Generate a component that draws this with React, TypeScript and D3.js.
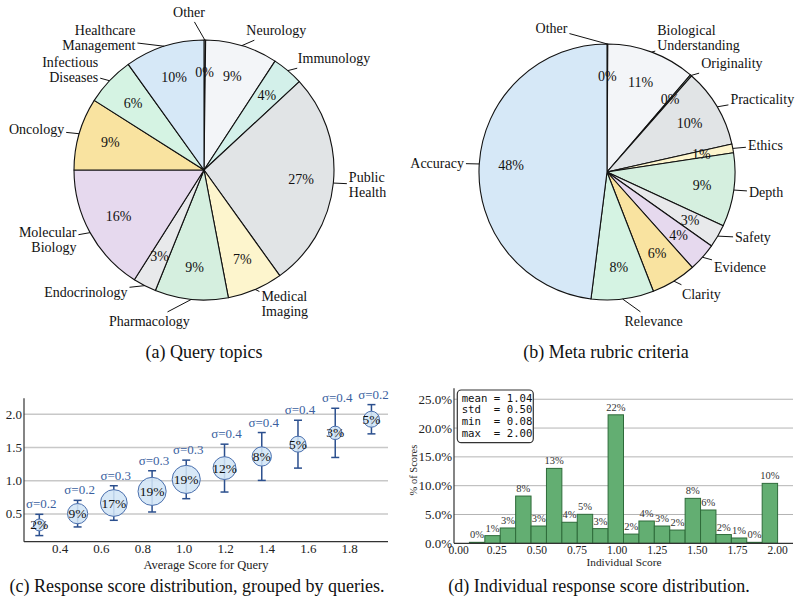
import React from "react";
import * as d3 from "d3";

const SERIF = "'Liberation Serif', 'Times New Roman', serif";
const MONO = "'DejaVu Sans Mono', monospace";

// wedge colours, taken in order after the "Other" wedge
const OTHER_COLOR = "#eeeeee";
const PIE_COLORS = [
  "#f3f5f8", "#d3f0ea", "#e1e4e6", "#fdf5cd", "#d5efdf",
  "#e8e9eb", "#e6d9ee", "#f9e3a0", "#d5f3e3", "#d6e8f7",
];

// (a) query topics, clockwise from 12 o'clock
const topicLabels = [
  "Other", "Neurology", "Immunology", "Public\nHealth", "Medical\nImaging",
  "Pharmacology", "Endocrinology", "Molecular\nBiology", "Oncology",
  "Infectious\nDiseases", "Healthcare\nManagement",
];
const topicShares = [0.2, 9.0, 3.9, 27.0, 6.9, 9.1, 2.9, 16.0, 9.0, 6.1, 9.9];

// (b) meta rubric criteria
const rubricLabels = [
  "Other", "Biological\nUnderstanding", "Originality", "Practicality", "Ethics",
  "Depth", "Safety", "Evidence", "Clarity", "Relevance", "Accuracy",
];
const rubricShares = [0.1, 11.2, 0.2, 10.0, 1.1, 9.3, 2.9, 3.6, 5.7, 7.9, 48.0];

// (c) per-query score groups
const groupAvgScore = [0.30, 0.485, 0.66, 0.845, 1.01, 1.195, 1.375, 1.55, 1.73, 1.905];
const groupMeanScore = [0.335, 0.505, 0.665, 0.84, 1.02, 1.19, 1.365, 1.55, 1.72, 1.925];
const groupStd = [0.16, 0.2, 0.26, 0.31, 0.29, 0.36, 0.36, 0.36, 0.37, 0.22];
const groupShare = [2, 9, 17, 19, 19, 12, 8, 5, 3, 5];
const groupXTicks = [0.4, 0.6, 0.8, 1.0, 1.2, 1.4, 1.6, 1.8];
const groupYTicks = [0.5, 1.0, 1.5, 2.0];

// (d) histogram of individual scores
const histEdges = [
  0.08, 0.176, 0.272, 0.368, 0.464, 0.56, 0.656, 0.752, 0.848, 0.944, 1.04,
  1.136, 1.232, 1.328, 1.424, 1.52, 1.616, 1.712, 1.808, 1.904, 2.0,
];
const histShares = [
  0.17, 1.33, 2.66, 8.2, 3.0, 13.0, 3.65, 5.03, 2.55, 22.3,
  1.6, 3.87, 3.0, 2.3, 7.8, 5.78, 1.52, 0.92, 0.17, 10.4,
];
const histXTicks = [0, 0.25, 0.5, 0.75, 1.0, 1.25, 1.5, 1.75, 2.0];
const histYTicks = [0, 5, 10, 15, 20, 25];
const histStats = ["mean = 1.04", "std  = 0.50", "min  = 0.08", "max  = 2.00"];

let measureCtx: CanvasRenderingContext2D | null = null;
function textWidth(s: string, size: number) {
  if (!measureCtx) measureCtx = document.createElement("canvas").getContext("2d");
  if (!measureCtx) return s.length * size * 0.5;
  measureCtx.font = `${size}px "Liberation Serif"`;
  return measureCtx.measureText(s).width;
}

type Nudge = { [k: string]: [number, number] };

function PieChart({ labels, values, cx, cy, r, nudges }: {
  labels: string[]; values: number[]; cx: number; cy: number; r: number; nudges: Nudge;
}) {
  const total = d3.sum(values);
  const arcs = d3.pie<number>().sort(null).value((d) => d)(values);
  const arc = d3.arc<d3.PieArcDatum<number>>().innerRadius(0).outerRadius(r);
  const fs = 14;
  const lh = 15;

  return (
    <g transform={`translate(${cx},${cy})`}>
      {arcs.map((a, i) => (
        <path key={i} d={arc(a) || ""} fill={i === 0 ? OTHER_COLOR : PIE_COLORS[(i - 1) % PIE_COLORS.length]}
          stroke="#111" strokeWidth={1.1} strokeLinejoin="round" />
      ))}
      {arcs.map((a, i) => {
        const mid = (a.startAngle + a.endAngle) / 2;
        const rr = r * 0.75;
        return (
          <text key={i} x={rr * Math.sin(mid)} y={-rr * Math.cos(mid)} textAnchor="middle"
            dominantBaseline="central" fontFamily={SERIF} fontSize={fs} fill="#111">
            {`${Math.round((values[i] / total) * 100)}%`}
          </text>
        );
      })}
      {arcs.map((a, i) => {
        const mid = (a.startAngle + a.endAngle) / 2;
        const s = Math.sin(mid), c = Math.cos(mid);
        const [nx, ny] = nudges[labels[i]] || [0, 0];
        const px = 1.12 * r * s + nx;
        const py = -1.12 * r * c + ny;
        // labels right of the vertical axis hang to the right, the rest to the left
        const anchorStart = s > 0.02;
        const lines = labels[i].split("\n");
        const w = Math.max(...lines.map((l) => textWidth(l, fs)));
        const left = anchorStart ? px : px - w;
        const bx = left + w / 2;
        const ex = r * s, ey = -r * c;
        const dx = ex - bx, dy = ey - py;
        const halfW = w / 2 + 2;
        const halfH = (lines.length * lh) / 2 + 2;
        const t = Math.min(Math.abs(dx) > 0 ? halfW / Math.abs(dx) : 1e9, Math.abs(dy) > 0 ? halfH / Math.abs(dy) : 1e9);
        return (
          <g key={i}>
            {t < 1 && (
              <line x1={ex} y1={ey} x2={bx + t * dx} y2={py + t * dy} stroke="#111" strokeWidth={1} />
            )}
            <text fontFamily={SERIF} fontSize={fs} fill="#111" textAnchor={anchorStart ? "start" : "end"}>
              {lines.map((l, j) => (
                <tspan key={j} x={px} y={py + (j - (lines.length - 1) / 2) * lh} dominantBaseline="central">{l}</tspan>
              ))}
            </text>
          </g>
        );
      })}
    </g>
  );
}

function GroupScatter() {
  const x = d3.scaleLinear().domain([0.226, 1.985]).range([24, 388]);
  const y = d3.scaleLinear().domain([0.083, 2.24]).range([541.7, 398.3]);
  const area = d3.scaleLinear().domain([0, 19]).range([16, 198]);
  return (
    <g>
      {groupYTicks.map((t) => (
        <g key={t}>
          <line x1={24} x2={388} y1={y(t)} y2={y(t)} stroke="#c8c8c8" strokeWidth={1.5} />
          <text x={22} y={y(t)} textAnchor="end" dominantBaseline="central" fontFamily={SERIF} fontSize={13} fill="#222">
            {t.toFixed(1)}
          </text>
        </g>
      ))}
      {groupXTicks.map((t) => (
        <text key={t} x={x(t)} y={553} textAnchor="middle" fontFamily={SERIF} fontSize={13} fill="#222">
          {t.toFixed(1)}
        </text>
      ))}
      {groupAvgScore.map((gx, i) => {
        const top = y(groupMeanScore[i] + groupStd[i]);
        const bot = y(groupMeanScore[i] - groupStd[i]);
        const cxp = x(gx);
        return (
          <g key={i}>
            <line x1={cxp} x2={cxp} y1={top} y2={bot} stroke="#2b4f8e" strokeWidth={1.5} />
            <line x1={cxp - 4} x2={cxp + 4} y1={top} y2={top} stroke="#2b4f8e" strokeWidth={1.5} />
            <line x1={cxp - 4} x2={cxp + 4} y1={bot} y2={bot} stroke="#2b4f8e" strokeWidth={1.5} />
            <circle cx={cxp} cy={y(groupMeanScore[i])} r={Math.sqrt(area(groupShare[i]))}
              fill="#d2e5f6" fillOpacity={0.88} stroke="#4a6fad" strokeWidth={1} />
            <text x={cxp} y={y(groupMeanScore[i])} textAnchor="middle" dominantBaseline="central"
              fontFamily={SERIF} fontSize={13.5} fill="#111">{`${groupShare[i]}%`}</text>
            <text x={cxp + 2} y={top - 6} textAnchor="middle" fontFamily={SERIF} fontSize={13} fill="#3b5f9f">
              {`σ=${groupStd[i].toFixed(1)}`}
            </text>
          </g>
        );
      })}
      <line x1={24} x2={24} y1={398.3} y2={541.7} stroke="#333" strokeWidth={1.2} />
      <line x1={24} x2={388} y1={541.7} y2={541.7} stroke="#333" strokeWidth={1.2} />
      <text x={206} y={569} textAnchor="middle" fontFamily={SERIF} fontSize={12.5} fill="#222">
        Average Score for Query
      </text>
    </g>
  );
}

function ScoreHistogram() {
  const x = d3.scaleLinear().domain([-0.016, 2.096]).range([454, 793]);
  const y = d3.scaleLinear().domain([0, 26.9]).range([543.3, 388.3]);
  return (
    <g>
      {histYTicks.map((t) => (
        <g key={t}>
          {t > 0 && <line x1={454} x2={793} y1={y(t)} y2={y(t)} stroke="#b4b4b4" strokeWidth={1} />}
          <text x={452} y={y(t)} textAnchor="end" dominantBaseline="central" fontFamily={SERIF} fontSize={13} fill="#222">
            {`${t.toFixed(1)}%`}
          </text>
        </g>
      ))}
      {histShares.map((v, i) => (
        <g key={i}>
          <rect x={x(histEdges[i])} y={y(v)} width={x(histEdges[i + 1]) - x(histEdges[i])} height={y(0) - y(v)}
            fill="#63ae72" stroke="#2e6b3a" strokeWidth={1} />
          <text x={(x(histEdges[i]) + x(histEdges[i + 1])) / 2} y={y(v) - 4} textAnchor="middle"
            fontFamily={SERIF} fontSize={10.5} fill="#333">{`${v.toFixed(0)}%`}</text>
        </g>
      ))}
      {histXTicks.map((t) => (
        <text key={t} x={x(t) + (t === 0 ? 2 : 0)} y={554} textAnchor="middle" fontFamily={SERIF} fontSize={11.5} fill="#222">
          {t.toFixed(2)}
        </text>
      ))}
      <line x1={454} x2={454} y1={388.3} y2={543.3} stroke="#333" strokeWidth={1.2} />
      <line x1={454} x2={793} y1={543.3} y2={543.3} stroke="#333" strokeWidth={1.2} />
      <rect x={457.3} y={390} width={76} height={52.7} rx={4} fill="#fff" stroke="#333" strokeWidth={1.2} />
      {histStats.map((s, i) => (
        <text key={i} x={461.7} y={401.7 + i * 11.7} fontFamily={MONO} fontSize={10.7} fill="#111"
          style={{ whiteSpace: "pre" }}>{s}</text>
      ))}
      <text transform="translate(413,470) rotate(-90)" textAnchor="middle" dominantBaseline="central"
        fontFamily={SERIF} fontSize={10.5} fill="#222">% of Scores</text>
      <text x={624} y={566} textAnchor="middle" fontFamily={SERIF} fontSize={11.3} fill="#222">Individual Score</text>
    </g>
  );
}

export default function App() {
  return (
    <svg width={801} height={606} style={{ position: "absolute", left: 0, top: 0, background: "#fff" }}>
      <PieChart labels={topicLabels} values={topicShares} cx={204} cy={170} r={130}
        nudges={{ Other: [0, -12], "Healthcare\nManagement": [-24, 7], Endocrinology: [-10, -7.5], Pharmacology: [0, 6.5] }} />
      <PieChart labels={rubricLabels} values={rubricShares} cx={607} cy={172} r={128}
        nudges={{ Other: [-40, 0], Safety: [4, -6], Relevance: [0, 7] }} />
      <GroupScatter />
      <ScoreHistogram />
      <g fontFamily={SERIF} fontSize={18} fill="#111" textAnchor="middle">
        <text x={204} y={358}>(a) Query topics</text>
        <text x={606} y={358}>(b) Meta rubric criteria</text>
        <text x={197} y={592}>(c) Response score distribution, grouped by queries.</text>
        <text x={599} y={592}>(d) Individual response score distribution.</text>
      </g>
    </svg>
  );
}
